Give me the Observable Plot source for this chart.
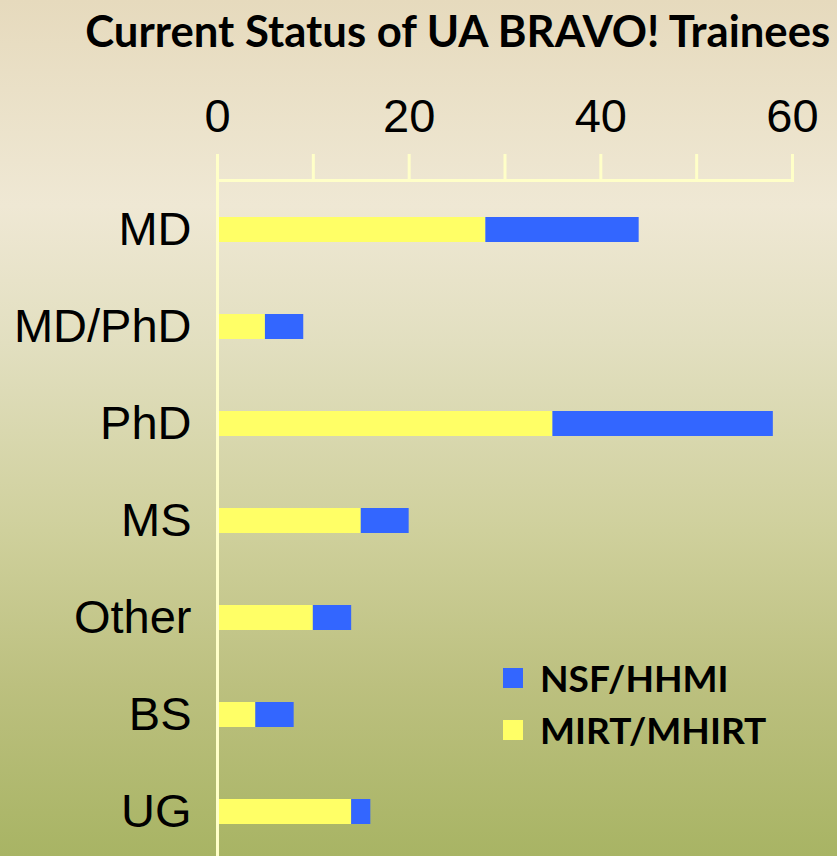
<!DOCTYPE html>
<html>
<head>
<meta charset="utf-8">
<script src="https://cdn.jsdelivr.net/npm/d3@7"></script>
<script src="https://cdn.jsdelivr.net/npm/@observablehq/plot@0.6"></script>
<style>
  html, body { margin: 0; padding: 0; }
  #wrap {
    position: relative; width: 837px; height: 856px; overflow: hidden;
    background: linear-gradient(to bottom, #e6dabd 0%, #efe8d4 24%, #e2dfc0 40%, #cfd09c 62%, #bcc07f 80%, #a8b464 100%);
  }
  #title {
    position: absolute; left: 0; top: 5px; width: 837px; text-align: center;
    font-family: Lato, "Open Sans", sans-serif; font-weight: 700; font-size: 43px;
    color: #000; white-space: nowrap;
  }
  #title span { display: inline-block; transform-origin: center; }
  #chart { position: absolute; left: 0; top: 0; }
  #legend { position: absolute; left: 503px; top: 652px; font-family: Lato, "Open Sans", sans-serif; font-weight: 700; font-size: 36px; }
  .item { display: flex; align-items: center; height: 52px; }
  .sw { width: 20px; height: 20px; margin-right: 17px; }
  .item span { display: inline-block; transform-origin: left center; transform: scaleX(1.03); }
</style>
</head>
<body>
<div id="wrap">
  <div id="chart"></div>
  <div id="title"><span id="tspan">Current Status of UA BRAVO! Trainees</span></div>
  <div id="legend"></div>
</div>
<script>
const categories = ["MD", "MD/PhD", "PhD", "MS", "Other", "BS", "UG"];
const mirtValues = [28, 5, 35, 15, 10, 4, 14];
const nsfValues = [16, 4, 23, 5, 4, 4, 2];
const seriesNames = ["MIRT/MHIRT", "NSF/HHMI"];
const seriesColors = ["#ffff66", "#3366ff"];
const xMajorTicks = [0, 20, 40, 60];
const xMinorTicks = [0, 10, 20, 30, 40, 50, 60];

const data = [];
categories.forEach((c, i) => {
  data.push({cat: c, series: seriesNames[0], value: mirtValues[i]});
  data.push({cat: c, series: seriesNames[1], value: nsfValues[i]});
});

const axisColor = "#ffffc8";
const chart = Plot.plot({
  width: 837,
  height: 856,
  marginLeft: 217,
  marginRight: 45,
  marginTop: 180,
  marginBottom: 0,
  style: {background: "transparent", overflow: "visible"},
  x: {domain: [0, 60]},
  y: {domain: categories, range: [180, 861], paddingInner: 0.74, paddingOuter: 0.37},
  color: {domain: seriesNames, range: seriesColors},
  marks: [
    Plot.barX(data, {x: "value", y: "cat", fill: "series"}),
    Plot.frame({anchor: "top", stroke: axisColor, strokeWidth: 3, strokeOpacity: 1}),
    Plot.frame({anchor: "left", stroke: axisColor, strokeWidth: 3, strokeOpacity: 1}),
    Plot.axisX({anchor: "top", ticks: xMinorTicks, tickSize: 27, stroke: axisColor, strokeWidth: 3, strokeOpacity: 1, tickFormat: () => "", label: null}),
    Plot.axisX({anchor: "top", ticks: xMajorTicks, tickSize: 27, tickPadding: 22, stroke: "none", fill: "#000", fontSize: 47, fontFamily: "Liberation Sans, Arial, sans-serif", label: null}),
    Plot.axisY({tickSize: 0, tickPadding: 26, fill: "#000", fontSize: 47, fontFamily: "Liberation Sans, Arial, sans-serif", label: null})
  ]
});
document.getElementById("chart").appendChild(chart);

const legend = document.getElementById("legend");
[1, 0].forEach(i => {
  const item = document.createElement("div");
  item.className = "item";
  const sw = document.createElement("div");
  sw.className = "sw";
  sw.style.background = seriesColors[i];
  const t = document.createElement("span");
  t.textContent = seriesNames[i];
  item.appendChild(sw); item.appendChild(t);
  legend.appendChild(item);
});

// fit title width to reference span (~745px)
const ts = document.getElementById("tspan");
const w = ts.getBoundingClientRect().width;
ts.style.transform = `scaleX(${745 / w})`;
document.getElementById("title").style.left = (458 - 837/2) + "px";
</script>
</body>
</html>
